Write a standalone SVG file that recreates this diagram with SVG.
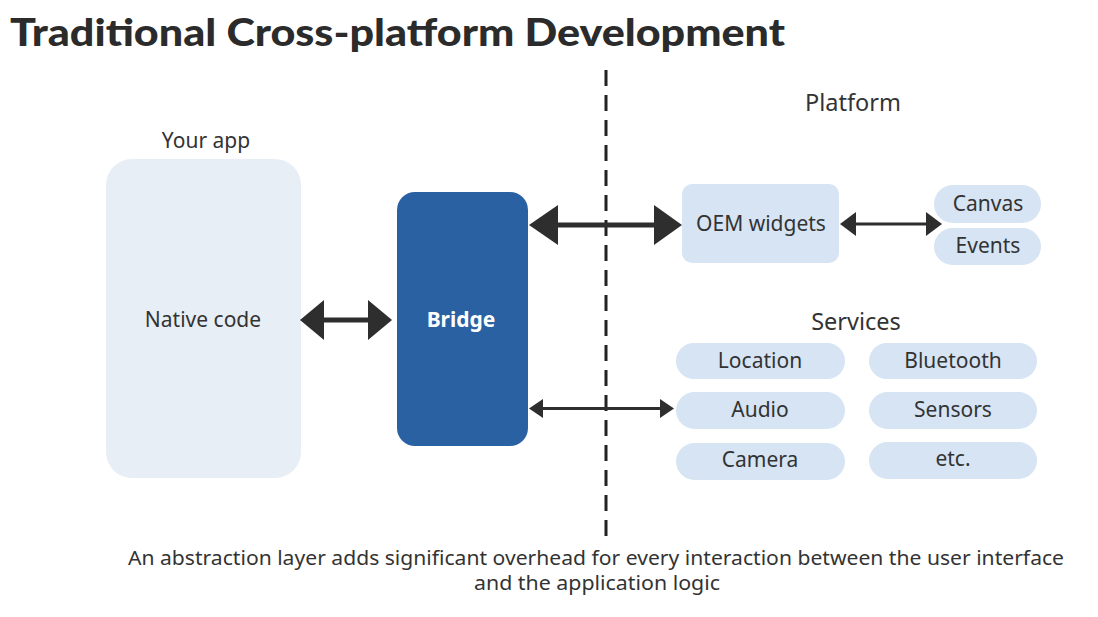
<svg xmlns="http://www.w3.org/2000/svg" width="1098" height="617" viewBox="0 0 1098 617">
<defs>
<style>
.t{font-family:"Noto Sans","Open Sans",sans-serif;fill:#333;text-anchor:middle}
.pill{fill:#d6e4f3}
.big{fill:#2e2e2e}
</style>
</defs>
<rect width="1098" height="617" fill="#fff"/>
<text x="10" y="46" font-family="Lato,'Open Sans',sans-serif" font-weight="900" font-size="38" fill="#2b2b2b" textLength="775" lengthAdjust="spacingAndGlyphs">Traditional Cross-platform Development</text>
<line x1="606" y1="70" x2="606" y2="542" stroke="#222" stroke-width="3" stroke-dasharray="16 9"/>
<text class="t" x="853" y="111" font-size="23.5">Platform</text>
<text class="t" x="206" y="148" font-size="21">Your app</text>
<g id="native">
<rect x="106" y="159" width="195" height="319" rx="26" fill="#e7eef6"/>
<text class="t" x="203" y="327" font-size="21">Native code</text>
</g>
<g id="bridge">
<rect x="397" y="192" width="131" height="254" rx="18" fill="#2a61a2"/>
<text class="t" x="461" y="327" font-size="21" font-weight="bold" style="fill:#fff">Bridge</text>
</g>
<g id="oem">
<rect class="pill" x="682" y="184" width="157" height="79" rx="10"/>
<text class="t" x="761" y="231" font-size="21">OEM widgets</text>
</g>
<g id="canvas">
<rect class="pill" x="934" y="185" width="107" height="38" rx="19"/>
<text class="t" x="988" y="211" font-size="21">Canvas</text>
</g>
<g id="events">
<rect class="pill" x="934" y="228" width="107" height="37" rx="18.5"/>
<text class="t" x="988" y="253" font-size="21">Events</text>
</g>
<text class="t" x="856" y="330" font-size="23.5">Services</text>
<g id="location"><rect class="pill" x="676" y="343" width="169" height="36" rx="18"/><text class="t" x="760" y="368" font-size="21">Location</text></g>
<g id="bluetooth"><rect class="pill" x="869" y="343" width="168" height="36" rx="18"/><text class="t" x="953" y="368" font-size="21">Bluetooth</text></g>
<g id="audio"><rect class="pill" x="676" y="392" width="169" height="37" rx="18.5"/><text class="t" x="760" y="417" font-size="21">Audio</text></g>
<g id="sensors"><rect class="pill" x="869" y="392" width="168" height="37" rx="18.5"/><text class="t" x="953" y="417" font-size="21">Sensors</text></g>
<g id="camera"><rect class="pill" x="676" y="443" width="169" height="37" rx="18.5"/><text class="t" x="760" y="467" font-size="21">Camera</text></g>
<g id="etc"><rect class="pill" x="869" y="442" width="168" height="37" rx="18.5"/><text class="t" x="953" y="466" font-size="21">etc.</text></g>
<g id="connectors" class="big">
<rect x="320" y="317.5" width="52" height="5"/>
<polygon points="300,320 324,300 324,340"/>
<polygon points="392,320 368,300 368,340"/>
<rect x="555" y="222.5" width="102" height="5"/>
<polygon points="529,225 558,205 558,245"/>
<polygon points="682,225 654,205 654,245"/>
<rect x="853" y="222.5" width="74" height="3"/>
<polygon points="840,224 856,212 856,236"/>
<polygon points="942,224 926,212 926,236"/>
<rect x="540" y="407" width="122" height="3"/>
<polygon points="529,408.5 543,399 543,418"/>
<polygon points="674,408.5 660,399 660,418"/>
</g>
<text class="t" x="596" y="565" font-size="20" textLength="936" lengthAdjust="spacingAndGlyphs">An abstraction layer adds significant overhead for every interaction between the user interface</text>
<text class="t" x="597" y="590" font-size="20" textLength="246" lengthAdjust="spacingAndGlyphs">and the application logic</text>
</svg>
